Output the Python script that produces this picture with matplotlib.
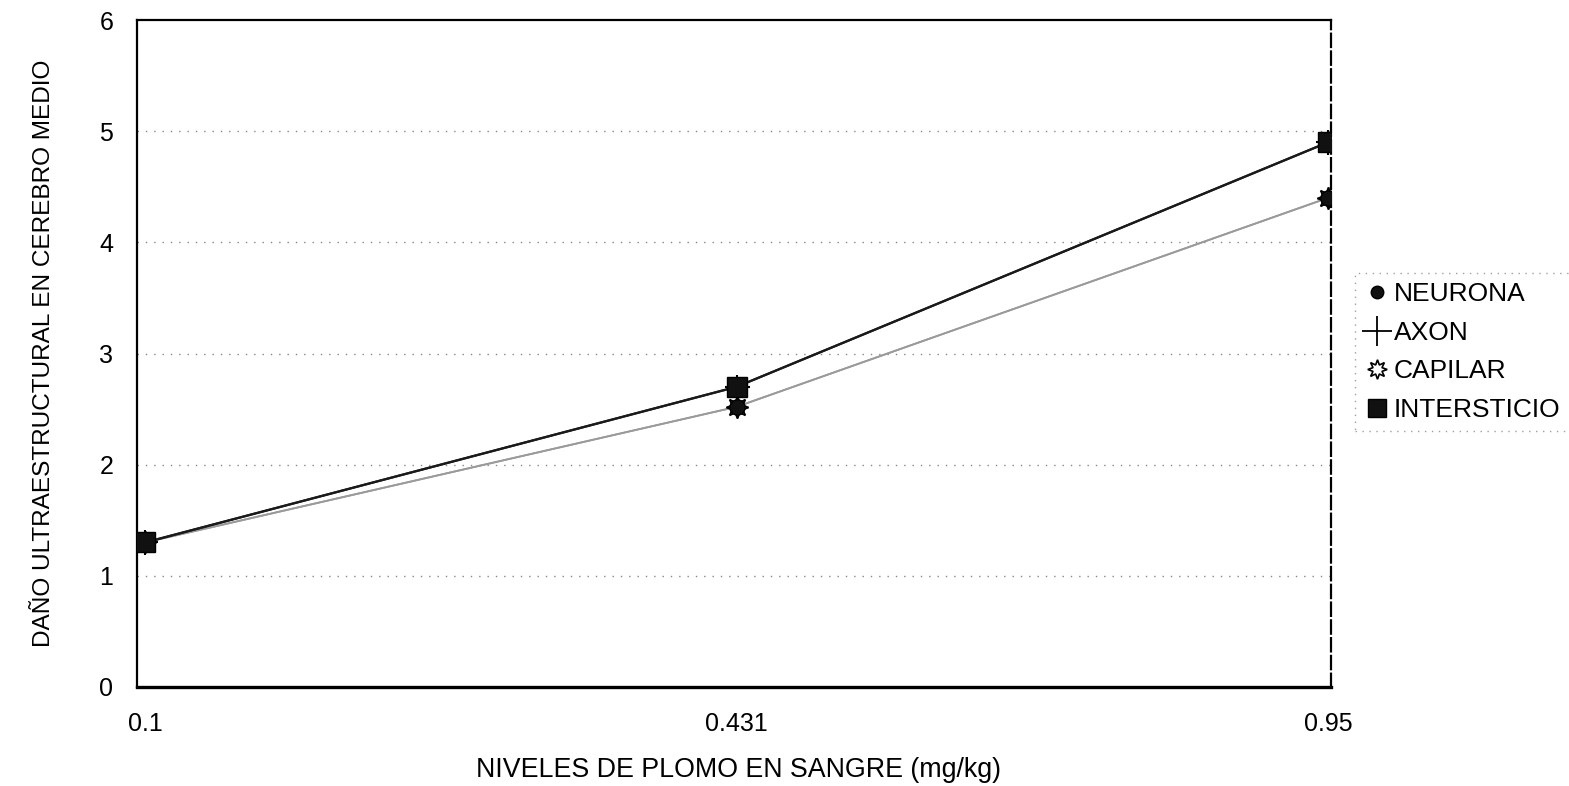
import matplotlib
matplotlib.use("Agg")
import matplotlib.pyplot as plt
from matplotlib.lines import Line2D

plt.rcParams['font.family'] = ['Liberation Sans', 'DejaVu Sans']

# Blood lead levels (categorical x positions) and damage scores per structure
niveles = ["0.1", "0.431", "0.95"]
neurona = [1.30, 2.52, 4.40]
axon = [1.30, 2.70, 4.90]
capilar = [1.30, 2.52, 4.40]
intersticio = [1.30, 2.70, 4.90]
yticks = [0, 1, 2, 3, 4, 5, 6]

W, H = 1569, 786
fig = plt.figure(figsize=(W / 100, H / 100), dpi=100)
ax = fig.add_axes([137 / W, 1 - 687 / H, (1331 - 137) / W, (687 - 20) / H])

x = list(range(len(niveles)))

# connecting lines
ax.plot(x, capilar, color="#9a9a9a", lw=1.3, zorder=2)
ax.plot(x, neurona, color="#9a9a9a", lw=1.3, zorder=2)
ax.plot(x, intersticio, color="#1a1a1a", lw=1.6, zorder=3)
ax.plot(x, axon, color="#1a1a1a", lw=1.6, zorder=3)

# markers
ax.plot(x, capilar, ls="none", marker=(8, 1, 0), ms=16, mfc="white", mec="black", mew=1.3, zorder=4)
ax.plot(x, neurona, ls="none", marker="o", ms=11, mfc="#111111", mec="black", zorder=5)
ax.plot(x, axon, ls="none", marker="+", ms=18, mec="black", mew=1.5, zorder=4)
ax.plot(x, intersticio, ls="none", marker="s", ms=14, mfc="#111111", mec="black", zorder=5)

ax.set_xlim(-0.0135, 2.005)
ax.set_ylim(0, 6)
ax.set_yticks(yticks)
ax.set_yticklabels([str(v) for v in yticks], fontsize=18)
ax.set_xticks(x)
ax.set_xticklabels(niveles, fontsize=18)
ax.tick_params(axis="both", length=0)
ax.tick_params(axis="y", pad=17)
ax.tick_params(axis="x", pad=18)

for yv in yticks[1:-1]:
    ax.axhline(yv, color="#888888", lw=1.0, ls=(0, (1, 5)), zorder=1)

for side in ["left", "top", "right"]:
    ax.spines[side].set_color("black")
    ax.spines[side].set_linewidth(1.6)
ax.spines["right"].set_linestyle((0, (6, 2)))
ax.spines["bottom"].set_color("black")
ax.spines["bottom"].set_linewidth(2.4)

fig.text(739 / W, 1 - 770 / H, "NIVELES DE PLOMO EN SANGRE (mg/kg)",
         fontsize=19.3, ha="center", va="center")
ax.set_ylabel("DAÑO ULTRAESTRUCTURAL EN CEREBRO MEDIO", fontsize=17.6, labelpad=32)

handles = [
    Line2D([], [], ls="none", marker="o", ms=9, mfc="#111111", mec="black"),
    Line2D([], [], ls="none", marker="+", ms=22, mec="black", mew=1.3),
    Line2D([], [], ls="none", marker=(8, 1, 0), ms=14, mfc="white", mec="black", mew=1.2),
    Line2D([], [], ls="none", marker="s", ms=13, mfc="#111111", mec="black"),
]
labels = ["NEURONA", "AXON", "CAPILAR", "INTERSTICIO"]
leg = fig.legend(handles, labels, loc="upper left",
                 bbox_to_anchor=(1355 / W, 1 - 273 / H),
                 fontsize=19, frameon=True, fancybox=False,
                 handlelength=1.0, handletextpad=0.12, labelspacing=0.55,
                 borderpad=0.35, borderaxespad=0)
leg.get_frame().set_edgecolor("#888888")
leg.get_frame().set_linestyle((0, (1, 4)))
leg.get_frame().set_linewidth(1.0)

fig.savefig("out.png", dpi=100)
